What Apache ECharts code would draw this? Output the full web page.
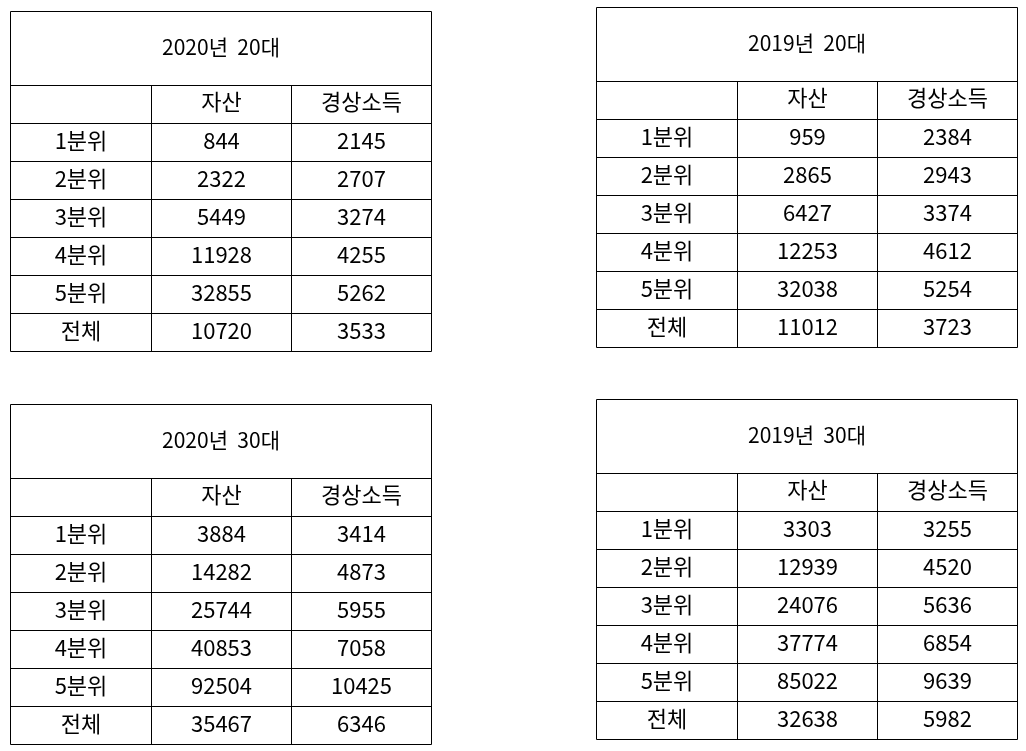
<!DOCTYPE html>
<html><head><meta charset="utf-8">
<script src="https://cdn.jsdelivr.net/npm/echarts@6/dist/echarts.min.js"></script>
<style>html,body{margin:0;padding:0;background:#fff}#c{width:1026px;height:751px}</style>
</head><body><div id="c"></div>
<script>
const rowLabels = ['1분위','2분위','3분위','4분위','5분위','전체'];
const colHeaders = ['자산','경상소득'];
const titles = ['2020년  20대','2019년  20대','2020년  30대','2019년  30대'];
const asset2020_20 = [844,2322,5449,11928,32855,10720];
const income2020_20 = [2145,2707,3274,4255,5262,3533];
const asset2019_20 = [959,2865,6427,12253,32038,11012];
const income2019_20 = [2384,2943,3374,4612,5254,3723];
const asset2020_30 = [3884,14282,25744,40853,92504,35467];
const income2020_30 = [3414,4873,5955,7058,10425,6346];
const asset2019_30 = [3303,12939,24076,37774,85022,32638];
const income2019_30 = [3255,4520,5636,6854,9639,5982];

const tables = [
  {title:titles[0], a:asset2020_20, b:income2020_20, x:10, y:11},
  {title:titles[1], a:asset2019_20, b:income2019_20, x:596, y:7},
  {title:titles[2], a:asset2020_30, b:income2020_30, x:10, y:404},
  {title:titles[3], a:asset2019_30, b:income2019_30, x:596, y:399}
];
const colW=[141,140,140], titleH=74, rowH=38;
const font='"Noto Sans CJK KR","Noto Sans",sans-serif';
const els=[];
function line(x1,y1,x2,y2){els.push({type:'line',shape:{x1,y1,x2,y2},style:{stroke:'#000',lineWidth:1}});}
function text(t,x,y,size){els.push({type:'text',x,y,style:{text:String(t),x:0,y:0,align:'center',verticalAlign:'middle',font:size+'px '+font,fill:'#000'}});}
tables.forEach(t=>{
  const W=colW[0]+colW[1]+colW[2], H=titleH+rowH*7;
  const x0=t.x+0.5,y0=t.y+0.5;
  line(x0,y0,x0+W,y0); line(x0,y0+H,x0+W,y0+H);
  line(x0,y0,x0,y0+H); line(x0+W,y0,x0+W,y0+H);
  for(let i=0;i<7;i++) line(x0,y0+titleH+rowH*i,x0+W,y0+titleH+rowH*i);
  line(x0+colW[0],y0+titleH,x0+colW[0],y0+H);
  line(x0+colW[0]+colW[1],y0+titleH,x0+colW[0]+colW[1],y0+H);
  text(t.title,x0+W/2,y0+titleH/2-1,21);
  const cx=[x0+colW[0]/2,x0+colW[0]+colW[1]/2,x0+colW[0]+colW[1]+colW[2]/2];
  text(colHeaders[0],cx[1],y0+titleH+rowH/2-3,22);
  text(colHeaders[1],cx[2],y0+titleH+rowH/2-3,22);
  rowLabels.forEach((r,i)=>{
    const cy=y0+titleH+rowH*(i+1)+rowH/2-2;
    text(r,cx[0],cy,22); text(t.a[i],cx[1],cy,22); text(t.b[i],cx[2],cy,22);
  });
});
const chart=echarts.init(document.getElementById('c'));
chart.setOption({backgroundColor:'#fff',graphic:{elements:els}});
</script></body></html>
